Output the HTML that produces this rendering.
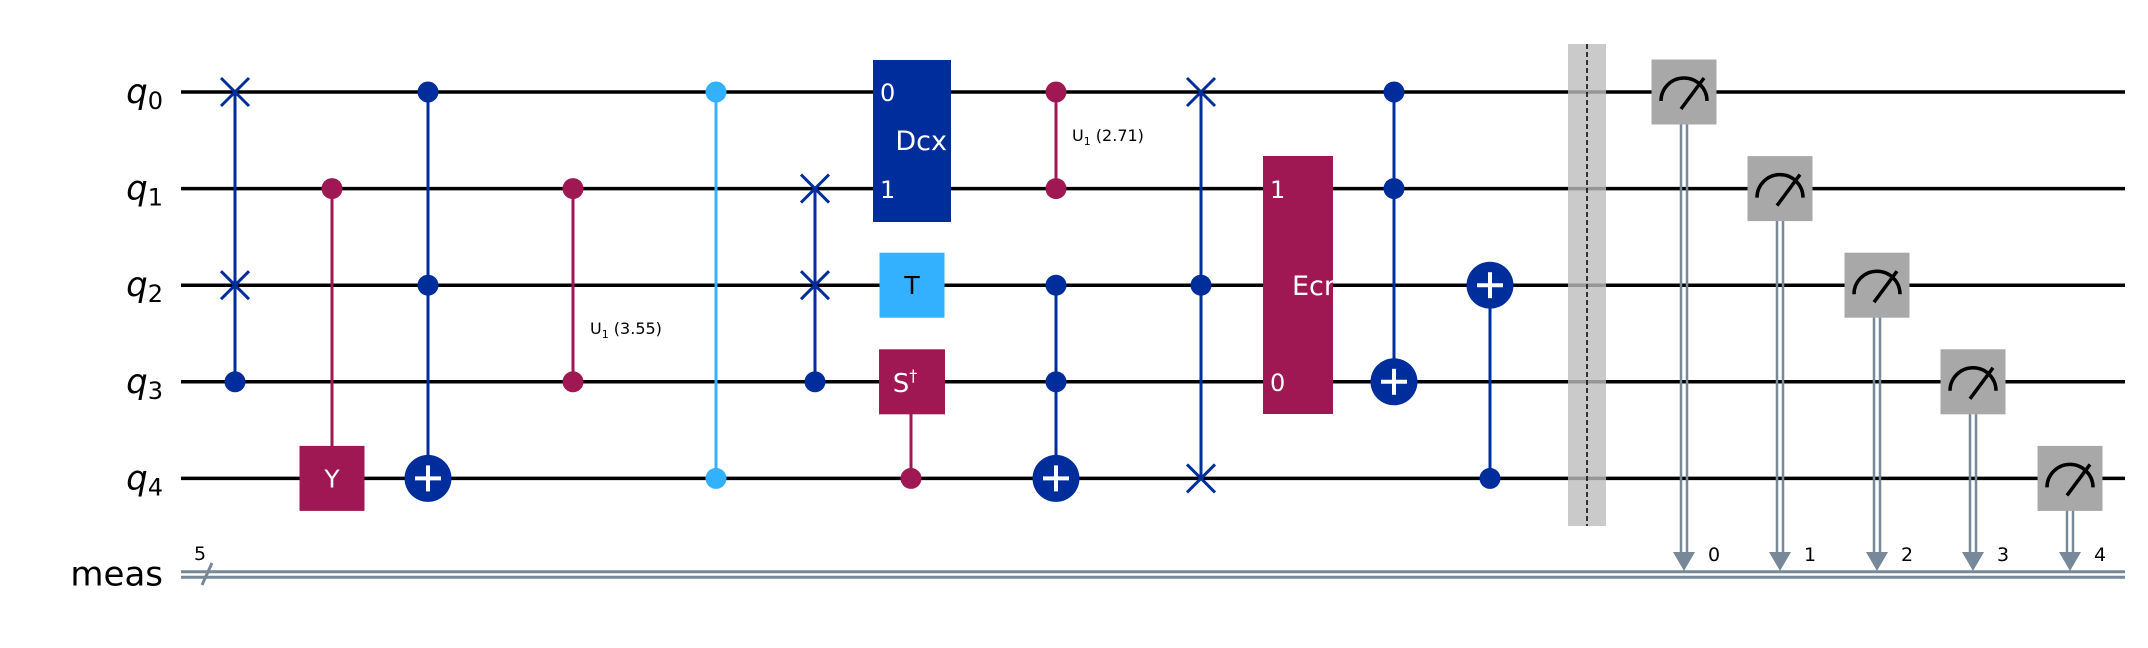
<!DOCTYPE html>
<html><head><meta charset="utf-8"><style>
html,body{margin:0;padding:0;background:#fff;}
svg{display:block;font-family:"DejaVu Sans","Liberation Sans",sans-serif;}
</style></head><body>
<svg id="c" width="2148" height="648" viewBox="0 0 2148 648" xmlns="http://www.w3.org/2000/svg"></svg>
<script>
const qubitLabels = ["0","1","2","3","4"];
const measTargets = [0,1,2,3,4];
const measX = [1684,1780,1877,1973,2070];
const NS="http://www.w3.org/2000/svg";
const svg=document.getElementById('c');
const wireY=i=>92+i*96.6;
const CY=574.5;
const BLUE="#002D9C",MAG="#9F1853",LB="#33B1FF",GRAY="#A8A8A8",CL="#778899";
function el(tag,attrs,parent,text){const e=document.createElementNS(NS,tag);for(const k in attrs)e.setAttribute(k,attrs[k]);if(text!==undefined)e.textContent=text;(parent||svg).appendChild(e);return e;}
qubitLabels.forEach((l,i)=>{
  const w=el('line',{x1:181,y1:wireY(i),x2:2125,y2:wireY(i),stroke:'#000','stroke-width':3.5});
  
  
  const t=el('text',{x:163,y:wireY(i)+11,'text-anchor':'end','font-size':34,'font-style':'italic'});
  
  
  el('tspan',{},t,'q');
  el('tspan',{'font-size':24,'font-style':'normal',dy:6},t,l);
});
const cg=el('g',{});


el('line',{x1:181,y1:CY-2.8,x2:2125,y2:CY-2.8,stroke:CL,'stroke-width':3},cg);
el('line',{x1:181,y1:CY+2.8,x2:2125,y2:CY+2.8,stroke:CL,'stroke-width':3},cg);
el('line',{x1:212,y1:563,x2:202,y2:585,stroke:CL,'stroke-width':3},cg);
el('text',{x:200,y:560,'text-anchor':'middle','font-size':19},cg,'5');
const ml=el('text',{x:163,y:CY+11,'text-anchor':'end','font-size':34},null,'meas');



function vline(x,a,b,c,p){el('line',{x1:x,y1:wireY(a),x2:x,y2:wireY(b),stroke:c,'stroke-width':3},p);}
function dot(x,q,c,p){el('circle',{cx:x,cy:wireY(q),r:10.5,fill:c},p);}
function cross(x,q,p){const y=wireY(q),s=14;el('line',{x1:x-s,y1:y-s,x2:x+s,y2:y+s,stroke:BLUE,'stroke-width':3},p);el('line',{x1:x-s,y1:y+s,x2:x+s,y2:y-s,stroke:BLUE,'stroke-width':3},p);}
function target(x,q,p){const y=wireY(q);el('circle',{cx:x,cy:y,r:23.5,fill:BLUE},p);el('line',{x1:x-13,y1:y,x2:x+13,y2:y,stroke:'#fff','stroke-width':4},p);el('line',{x1:x,y1:y-13,x2:x,y2:y+13,stroke:'#fff','stroke-width':4},p);}
function grp(name){const g=el('g',{});return g;}
function box(x,q,c,txt,p,tc){const y=wireY(q);el('rect',{x:x-32.5,y:y-32.5,width:65,height:65,fill:c},p);el('text',{x:x,y:y+9,'text-anchor':'middle','font-size':25,fill:tc||'#fff'},p,txt);}

let g;
g=grp('swap-gate-q0-q2');vline(235,0,3,BLUE,g);cross(235,0,g);cross(235,2,g);dot(235,3,BLUE,g);
g=grp('cy-gate');vline(332,1,4,MAG,g);dot(332,1,MAG,g);box(332,4,MAG,'Y',g);
g=grp('ccx-gate-1');vline(428,0,4,BLUE,g);dot(428,0,BLUE,g);dot(428,2,BLUE,g);target(428,4,g);
g=grp('cu1-gate-3-55');vline(573,1,3,MAG,g);dot(573,1,MAG,g);dot(573,3,MAG,g);
let t=el('text',{x:590,y:334,'font-size':16},g,'U');el('tspan',{'font-size':11,dy:4},t,'1');el('tspan',{dy:-4},t,' (3.55)');
g=grp('cz-gate');vline(716,0,4,LB,g);dot(716,0,LB,g);dot(716,4,LB,g);
g=grp('cswap-gate-q1-q2');vline(815,1,3,BLUE,g);cross(815,1,g);cross(815,2,g);dot(815,3,BLUE,g);
g=grp('dcx-gate');el('rect',{x:873,y:60,width:78,height:162,fill:BLUE},g);
el('text',{x:880,y:101,'font-size':24,fill:'#fff'},g,'0');el('text',{x:880,y:198,'font-size':24,fill:'#fff'},g,'1');el('text',{x:947,y:150,'text-anchor':'end','font-size':27,fill:'#fff'},g,'Dcx');
g=grp('t-gate');box(912,2,LB,'T',g,'#000');
g=grp('csdg-gate');vline(911,3,4,MAG,g);dot(911,4,MAG,g);el('rect',{x:879,y:349.3,width:66,height:65,fill:MAG},g);
t=el('text',{x:905,y:392,'text-anchor':'middle','font-size':26,fill:'#fff'},g,'S');el('tspan',{'font-size':16,dy:-11},t,'†');
g=grp('cu1-gate-2-71');vline(1056,0,1,MAG,g);dot(1056,0,MAG,g);dot(1056,1,MAG,g);
t=el('text',{x:1072,y:141,'font-size':16},g,'U');el('tspan',{'font-size':11,dy:4},t,'1');el('tspan',{dy:-4},t,' (2.71)');
g=grp('ccx-gate-2');vline(1056,2,4,BLUE,g);dot(1056,2,BLUE,g);dot(1056,3,BLUE,g);target(1056,4,g);
g=grp('cswap-gate-q0-q4');vline(1201,0,4,BLUE,g);cross(1201,0,g);dot(1201,2,BLUE,g);cross(1201,4,g);
g=grp('ecr-gate');el('rect',{x:1263,y:156,width:70,height:258,fill:MAG},g);
el('text',{x:1270,y:198,'font-size':24,fill:'#fff'},g,'1');el('text',{x:1270,y:391,'font-size':24,fill:'#fff'},g,'0');el('text',{x:1335,y:295,'text-anchor':'end','font-size':27,fill:'#fff'},g,'Ecr');
g=grp('ccx-gate-3');vline(1394,0,3,BLUE,g);dot(1394,0,BLUE,g);dot(1394,1,BLUE,g);target(1394,3,g);
g=grp('cx-gate');vline(1490,2,4,BLUE,g);target(1490,2,g);dot(1490,4,BLUE,g);
g=grp('barrier');el('rect',{x:1568,y:44,width:38,height:482,fill:'#BDBDBD','fill-opacity':0.8},g);
el('line',{x1:1587,y1:44,x2:1587,y2:526,stroke:'#000','stroke-width':1.5,'stroke-dasharray':'5,3'},g);
measTargets.forEach((c,i)=>{
  const x=measX[i],y=wireY(i);
  const mg=el('g',{});
  
  
  el('line',{x1:x-3,y1:y+32,x2:x-3,y2:553,stroke:CL,'stroke-width':2.5},mg);
  el('line',{x1:x+3,y1:y+32,x2:x+3,y2:553,stroke:CL,'stroke-width':2.5},mg);
  el('polygon',{points:`${x-11},552 ${x+11},552 ${x},571`,fill:CL},mg);
  el('rect',{x:x-32.5,y:y-32.5,width:65,height:65,fill:GRAY},mg);
  el('path',{d:`M ${x-23} ${y+9} A 23 23 0 0 1 ${x+23} ${y+9}`,fill:'none',stroke:'#000','stroke-width':3.5},mg);
  el('line',{x1:x-3,y1:y+17,x2:x+20,y2:y-14,stroke:'#000','stroke-width':3.5},mg);
  el('text',{x:x+24,y:561,'font-size':19},mg,String(c));
});
</script>
</body></html>
